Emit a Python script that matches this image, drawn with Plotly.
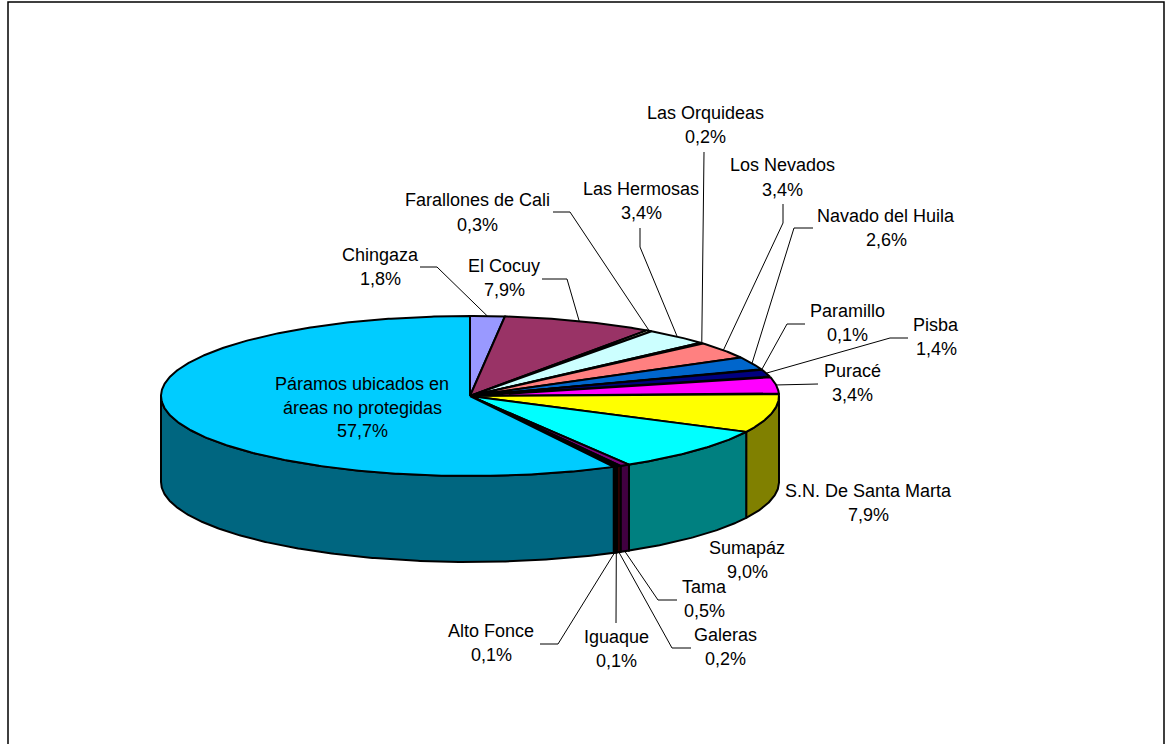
import numpy as np
import plotly.graph_objects as go

# ---- data ----
names = ["Chingaza", "El Cocuy", "Farallones de Cali", "Las Hermosas", "Las Orquideas",
         "Los Nevados", "Navado del Huila", "Paramillo", "Pisba", "Puracé",
         "S.N. De Santa Marta", "Sumapáz", "Tama", "Galeras", "Iguaque", "Alto Fonce",
         "Páramos ubicados en|áreas no protegidas"]
values = [1.8, 7.9, 0.3, 3.4, 0.2, 3.4, 2.6, 0.1, 1.4, 3.4, 7.9, 9.0, 0.5, 0.2, 0.1, 0.1, 57.7]
top_colors = ["#9999FF", "#993366", "#FFFFCC", "#CCFFFF", "#660066", "#FF8080", "#0066CC",
              "#CCCCFF", "#000080", "#FF00FF", "#FFFF00", "#00FFFF", "#800080", "#800000",
              "#008080", "#0000FF", "#00CCFF"]
side_colors = ["#4D4D80", "#4D1A33", "#808066", "#668080", "#330033", "#804040", "#003366",
               "#666680", "#000040", "#800080", "#808000", "#008080", "#400040", "#400000",
               "#004040", "#000080", "#006680"]

# ---- layout of the drawing (pixels) ----
W, H = 1165, 744
CX, CY, RX, RY, DEPTH = 470, 396, 309, 80, 86

# label centre x, then the y of each text line
label_pos = {
    "Chingaza": (380, [255, 279]),
    "El Cocuy": (504, [266, 290]),
    "Farallones de Cali": (477, [200, 225]),
    "Las Hermosas": (641, [189, 213]),
    "Las Orquideas": (705, [113, 137]),
    "Los Nevados": (782, [165, 190]),
    "Navado del Huila": (886, [216, 240]),
    "Paramillo": (847, [311, 335]),
    "Pisba": (936, [325, 349]),
    "Puracé": (852, [371, 395]),
    "S.N. De Santa Marta": (868, [491, 515]),
    "Sumapáz": (747, [548, 572]),
    "Tama": (704, [587, 611]),
    "Galeras": (725, [635, 659]),
    "Iguaque": (616, [637, 661]),
    "Alto Fonce": (491, [631, 655]),
    "Páramos ubicados en|áreas no protegidas": (362, [384, 408, 431]),
}
# leader polylines, from the label towards the slice
leaders = {
    "Chingaza": [(420, 267), (437, 267)],
    "El Cocuy": [(542, 279), (567, 279)],
    "Farallones de Cali": [(553, 212), (570, 212)],
    "Las Hermosas": [(640, 228), (640, 247)],
    "Las Orquideas": [(704, 152)],
    "Los Nevados": [(783, 204), (783, 223)],
    "Navado del Huila": [(813, 228), (794, 228)],
    "Paramillo": [(805, 324), (787, 324)],
    "Pisba": [(908, 338), (890, 338)],
    "Puracé": [(818, 384)],
    "Tama": [(677, 600), (658, 600)],
    "Galeras": [(691, 648), (672, 648)],
    "Iguaque": [(616, 623)],
    "Alto Fonce": [(540, 644), (558, 644)],
}

FONT = dict(family="Liberation Sans, Arial, sans-serif", size=18, color="#000000")
OUT = dict(color="#000000", width=2)

total = sum(values)
edges = np.concatenate([[0], np.cumsum(values)]) / total * 2 * np.pi


def rim(t, drop=0.0):
    return CX + RX * np.sin(t), CY - RY * np.cos(t) + drop


fig = go.Figure()


def poly(xs, ys, color):
    fig.add_trace(go.Scatter(x=xs, y=ys, mode="lines", fill="toself", fillcolor=color,
                             line=OUT, hoverinfo="skip", showlegend=False))


# side walls: only the part of the rim that faces the viewer
for i, c in enumerate(side_colors):
    a, b = max(edges[i], np.pi / 2), min(edges[i + 1], 3 * np.pi / 2)
    if b <= a:
        continue
    t = np.linspace(a, b, max(2, int((b - a) * 120)))
    x, y = rim(t)
    x2, y2 = rim(t[::-1], DEPTH)
    poly(list(x) + list(x2) + [x[0]], list(y) + list(y2) + [y[0]], c)

# top face
for i, c in enumerate(top_colors):
    a, b = edges[i], edges[i + 1]
    t = np.linspace(a, b, max(2, int((b - a) * 120)))
    x, y = rim(t)
    poly([CX] + list(x) + [CX], [CY] + list(y) + [CY], c)

# leader lines, ending on the rim at the middle of each slice
for i, name in enumerate(names):
    if name not in leaders:
        continue
    mid = (edges[i] + edges[i + 1]) / 2
    front = np.pi / 2 < mid < 3 * np.pi / 2
    ax, ay = rim(mid, DEPTH if front else 0)
    pts = leaders[name] + [(float(ax), float(ay))]
    fig.add_trace(go.Scatter(x=[p[0] for p in pts], y=[p[1] for p in pts], mode="lines",
                             line=dict(color="#000000", width=1), hoverinfo="skip",
                             showlegend=False))

# labels
annotations = []
for name, v in zip(names, values):
    cx, ys = label_pos[name]
    lines = name.split("|") + [f"{v:.1f}%".replace(".", ",")]
    for line, y in zip(lines, ys):
        annotations.append(dict(x=cx, y=y, xref="x", yref="y", text=line, showarrow=False,
                                xanchor="center", yanchor="middle", font=FONT))

fig.update_layout(
    width=W, height=H, margin=dict(l=0, r=0, t=0, b=0),
    paper_bgcolor="#FFFFFF", plot_bgcolor="#FFFFFF", showlegend=False,
    xaxis=dict(range=[0, W], visible=False, fixedrange=True),
    yaxis=dict(range=[H, 0], visible=False, fixedrange=True),
    annotations=annotations,
    shapes=[dict(type="rect", xref="x", yref="y", x0=8, y0=2, x1=1164, y1=H + 4,
                 line=dict(color="#000000", width=1.5), fillcolor="rgba(0,0,0,0)", layer="below")],
)
fig.write_html("out.html", config=dict(displayModeBar=False),
               post_script="document.body.style.margin='0';document.body.style.overflow='hidden';")
